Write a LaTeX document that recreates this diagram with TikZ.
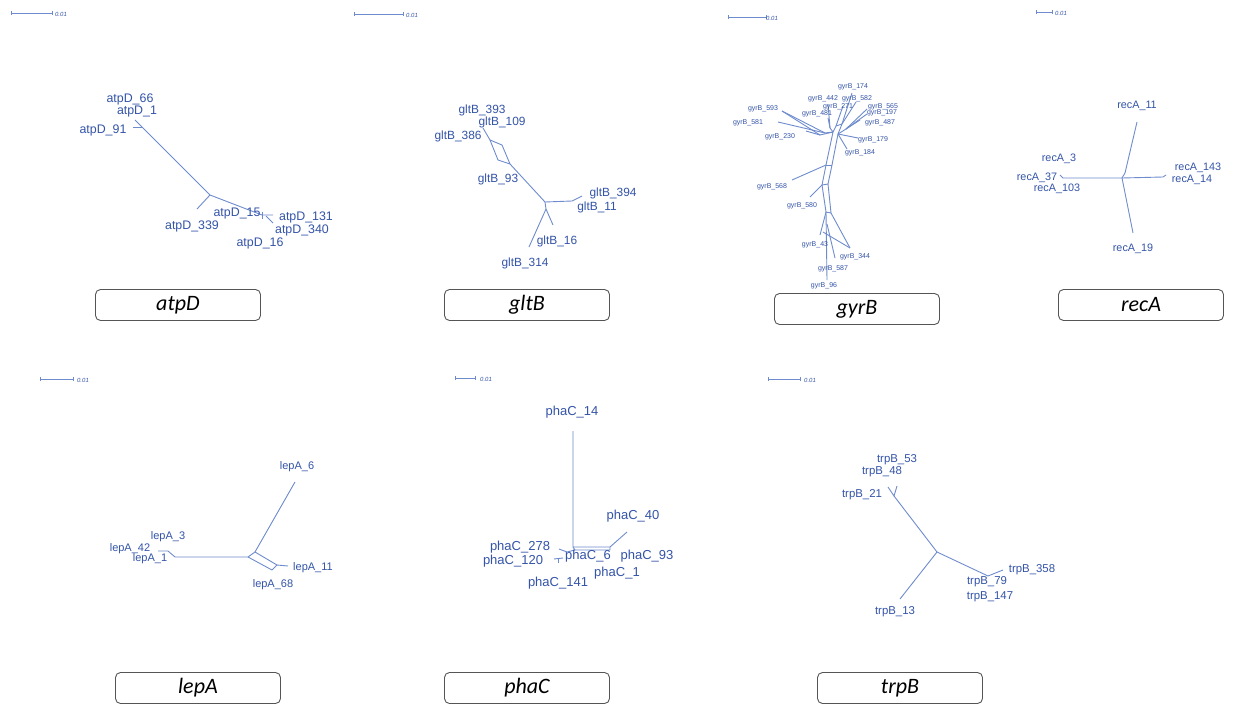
\documentclass[tikz,border=0pt]{standalone}
\usepackage{fontspec}
\setmainfont{Liberation Sans}
\newfontfamily\carlito{Carlito}
\usetikzlibrary{arrows.meta}
\definecolor{txtblue}{RGB}{52,84,168}
\definecolor{lineblue}{RGB}{110,140,205}
\definecolor{boxgray}{RGB}{85,85,85}
\tikzset{
  lbl/.style={text=txtblue,inner sep=0pt,font=\fontsize{#1}{#1}\selectfont},
  edge/.style={draw=lineblue,line width=0.9pt,line join=round},
  genebox/.style={draw=boxgray,rounded corners=5pt,minimum width=165pt,minimum height=31pt,line width=0.9pt,inner sep=0pt,font=\carlito\itshape\fontsize{22}{22}\selectfont},
  sbar/.style={draw=lineblue,line width=0.7pt,{Bar[width=4pt]}-{Bar[width=4pt]}},
  stxt/.style={text=txtblue,inner sep=0pt,font=\itshape\fontsize{6}{6}\selectfont}
}
\begin{document}
\begin{tikzpicture}[x=1pt,y=-1pt]
\useasboundingbox[fill=white] (0,0) rectangle (1234,704);

% ---------- scale bars ----------
\coordinate (s1a) at (11,13); \coordinate (s1b) at (53,13);
\draw[sbar] (s1a) -- (s1b); \node[stxt] (s1t) at (61,14) {0.01};
\coordinate (s2a) at (354,14); \coordinate (s2b) at (404,14);
\draw[sbar] (s2a) -- (s2b); \node[stxt] (s2t) at (412,15) {0.01};
\coordinate (s3a) at (728,17); \coordinate (s3b) at (767,17);
\draw[sbar] (s3a) -- (s3b); \node[stxt] (s3t) at (772,18) {0.01};
\coordinate (s4a) at (1036,12); \coordinate (s4b) at (1053,12);
\draw[sbar] (s4a) -- (s4b); \node[stxt] (s4t) at (1061,13) {0.01};
\coordinate (s5a) at (40,379); \coordinate (s5b) at (74,379);
\draw[sbar] (s5a) -- (s5b); \node[stxt] (s5t) at (83,380) {0.01};
\coordinate (s6a) at (455,378); \coordinate (s6b) at (476,378);
\draw[sbar] (s6a) -- (s6b); \node[stxt] (s6t) at (486,379) {0.01};
\coordinate (s7a) at (768,379); \coordinate (s7b) at (801,379);
\draw[sbar] (s7a) -- (s7b); \node[stxt] (s7t) at (810,380) {0.01};

% ---------- gene boxes ----------
\node[genebox] (bA) at (178,305) {atpD};
\node[genebox] (bG) at (527,305) {gltB};
\node[genebox] (bY) at (857,309) {gyrB};
\node[genebox] (bR) at (1141,305) {recA};
\node[genebox] (bL) at (198,688) {lepA};
\node[genebox] (bP) at (527,688) {phaC};
\node[genebox] (bT) at (900,688) {trpB};

% ---------- atpD ----------
\coordinate (d1) at (135,120); \coordinate (d2) at (142,127);
\coordinate (d3) at (133,127); \coordinate (dc) at (210,195);
\coordinate (d339) at (197,209); \coordinate (d4) at (262,215);
\coordinate (d5) at (273,215); \coordinate (d6) at (266,216);
\coordinate (d7) at (273,223); \coordinate (d8) at (262,212); \coordinate (d9) at (262,219);
\draw[edge] (d1) -- (d2) -- (dc) -- (d4) -- (d5);
\draw[edge] (d2) -- (d3);
\draw[edge] (dc) -- (d339);
\draw[edge] (d6) -- (d7);
\draw[edge] (d8) -- (d9);
\node[lbl=12.4] (a66) at (130,99) {atpD\_66};
\node[lbl=12.4] (a1) at (137,112) {atpD\_1};
\node[lbl=12.4] (a91) at (103,130) {atpD\_91};
\node[lbl=12.4] (a15) at (237,214) {atpD\_15};
\node[lbl=12.4] (a339) at (192,226) {atpD\_339};
\node[lbl=12.4] (a131) at (306,217) {atpD\_131};
\node[lbl=12.4] (a340) at (302,230) {atpD\_340};
\node[lbl=12.4] (a16) at (260,243) {atpD\_16};

% ---------- gltB ----------
\coordinate (g1) at (483,128); \coordinate (g2) at (490,140);
\coordinate (g3) at (502,145); \coordinate (g4) at (510,164);
\coordinate (g5) at (498,160); \coordinate (gc) at (545,202);
\coordinate (g6) at (572,201); \coordinate (g7) at (582,196);
\coordinate (g8) at (546,209); \coordinate (g9) at (553,225);
\coordinate (g10) at (529,247);
\draw[edge] (g1) -- (g2) -- (g3) -- (g4) -- (gc) -- (g6) -- (g7);
\draw[edge] (g2) -- (g5) -- (g4);
\draw[edge] (gc) -- (g8) -- (g9);
\draw[edge] (g8) -- (g10);
\node[lbl=11.9] (t393) at (482,110) {gltB\_393};
\node[lbl=11.9] (t109) at (502,122) {gltB\_109};
\node[lbl=11.9] (t386) at (458,136) {gltB\_386};
\node[lbl=11.9] (t93) at (498,179) {gltB\_93};
\node[lbl=11.9] (t394) at (613,193) {gltB\_394};
\node[lbl=11.9] (t11) at (597,207) {gltB\_11};
\node[lbl=11.9] (t16) at (557,241) {gltB\_16};
\node[lbl=11.9] (t314) at (525,263) {gltB\_314};

% ---------- gyrB ----------
\coordinate (yh) at (833,132); \coordinate (yh2) at (838,134);
\coordinate (ya1) at (826,165); \coordinate (ya2) at (822,185);
\coordinate (ya3) at (826,212); \coordinate (yb1) at (832,165);
\coordinate (yb2) at (828,184); \coordinate (yb3) at (831,213);
\coordinate (y43) at (820,235); \coordinate (y344) at (850,248);
\coordinate (y587) at (835,258); \coordinate (y96) at (827,280);
\coordinate (yq1) at (827,224); \coordinate (yq2) at (823,232);
\coordinate (y568) at (792,180); \coordinate (y580) at (810,197);
\coordinate (y593) at (782,111); \coordinate (y581) at (778,122);
\coordinate (y230) at (806,131); \coordinate (y481) at (828,118);
\coordinate (y442) at (828,104); \coordinate (y271) at (843,106);
\coordinate (y174) at (852,93); \coordinate (y582) at (856,102);
\coordinate (y565) at (867,109); \coordinate (y197) at (867,114);
\coordinate (y487) at (860,120); \coordinate (y179) at (858,138);
\coordinate (y184) at (847,149);
\coordinate (yc1) at (825,133); \coordinate (yc2) at (830,128);
\coordinate (yc3) at (842,124); \coordinate (yc4) at (846,129);
\coordinate (yc5) at (820,135); \coordinate (yc6) at (836,126);
\draw[edge] (yh) -- (ya1) -- (ya2) -- (ya3) -- (y96);
\draw[edge] (yh2) -- (yb1) -- (yb2) -- (yb3);
\draw[edge] (ya1) -- (yb1); \draw[edge] (ya2) -- (yb2);
\draw[edge] (ya3) -- (yb3);
\draw[edge] (ya3) -- (y43); \draw[edge] (yb3) -- (y344);
\draw[edge] (yq1) -- (y587); \draw[edge] (yq2) -- (y344);
\draw[edge] (ya1) -- (y568); \draw[edge] (ya2) -- (y580);
\draw[edge] (yh) -- (yc1) -- (y581); \draw[edge] (yc1) -- (y593);
\draw[edge] (yc5) -- (y593); \draw[edge] (yc5) -- (y230);
\draw[edge] (yh) -- (yc5);
\draw[edge] (yh) -- (yc2) -- (y481);
\draw[edge] (yc2) -- (y442);
\draw[edge] (yh) -- (yc6) -- (y271); \draw[edge] (yc6) -- (yc3);
\draw[edge] (yh2) -- (yc3) -- (y174); \draw[edge] (yc3) -- (y582);
\draw[edge] (yh2) -- (yc4) -- (y565); \draw[edge] (yc4) -- (y197);
\draw[edge] (yc4) -- (y487);
\draw[edge] (yh2) -- (y179); \draw[edge] (yh2) -- (y184);
\node[lbl=7] (y174t) at (853,87) {gyrB\_174};
\node[lbl=7] (y442t) at (823,99) {gyrB\_442};
\node[lbl=7] (y582t) at (857,99) {gyrB\_582};
\node[lbl=7] (y271t) at (838,107) {gyrB\_271};
\node[lbl=7] (y565t) at (883,107) {gyrB\_565};
\node[lbl=7] (y593t) at (763,109) {gyrB\_593};
\node[lbl=7] (y481t) at (817,114) {gyrB\_481};
\node[lbl=7] (y197t) at (882,113) {gyrB\_197};
\node[lbl=7] (y581t) at (748,123) {gyrB\_581};
\node[lbl=7] (y487t) at (880,123) {gyrB\_487};
\node[lbl=7] (y230t) at (780,137) {gyrB\_230};
\node[lbl=7] (y179t) at (873,140) {gyrB\_179};
\node[lbl=7] (y184t) at (860,153) {gyrB\_184};
\node[lbl=7] (y568t) at (772,187) {gyrB\_568};
\node[lbl=7] (y580t) at (802,206) {gyrB\_580};
\node[lbl=7] (y43t) at (815,245) {gyrB\_43};
\node[lbl=7] (y344t) at (855,257) {gyrB\_344};
\node[lbl=7] (y587t) at (833,269) {gyrB\_587};
\node[lbl=7] (y96t) at (824,286) {gyrB\_96};

% ---------- recA ----------
\coordinate (rc) at (1122,178); \coordinate (rc2) at (1125,173);
\coordinate (r11) at (1137,122); \coordinate (rL) at (1063,178);
\coordinate (rLh) at (1060,175); \coordinate (rR) at (1163,177);
\coordinate (rRh) at (1166,175); \coordinate (r19) at (1133,233);
\draw[edge] (rc) -- (rc2) -- (r11);
\draw[edge] (rc) -- (rL) -- (rLh);
\draw[edge] (rc) -- (rR) -- (rRh);
\draw[edge] (rc) -- (r19);
\node[lbl=10.8] (r11t) at (1137,106) {recA\_11};
\node[lbl=10.8] (r3t) at (1059,159) {recA\_3};
\node[lbl=10.8] (r37t) at (1037,178) {recA\_37};
\node[lbl=10.8] (r103t) at (1057,189) {recA\_103};
\node[lbl=10.8] (r143t) at (1198,168) {recA\_143};
\node[lbl=10.8] (r14t) at (1192,180) {recA\_14};
\node[lbl=10.8] (r19t) at (1133,249) {recA\_19};

% ---------- lepA ----------
\coordinate (l1) at (158,551); \coordinate (l2) at (168,551);
\coordinate (l3) at (175,557); \coordinate (lA) at (248,557);
\coordinate (lB) at (255,552); \coordinate (lC) at (277,565);
\coordinate (lD) at (272,570); \coordinate (l11) at (288,566);
\coordinate (l6) at (295,482);
\draw[edge] (l1) -- (l2) -- (l3) -- (lA) -- (lB) -- (lC) -- (l11);
\draw[edge] (lA) -- (lD) -- (lC);
\draw[edge] (lB) -- (l6);
\node[lbl=11] (l6t) at (297,467) {lepA\_6};
\node[lbl=11] (l3t) at (168,537) {lepA\_3};
\node[lbl=11] (l42t) at (130,549) {lepA\_42};
\node[lbl=11] (l1t) at (150,559) {lepA\_1};
\node[lbl=11] (l11t) at (313,568) {lepA\_11};
\node[lbl=11] (l68t) at (273,585) {lepA\_68};

% ---------- phaC ----------
\coordinate (p14) at (573,431); \coordinate (pA) at (573,547);
\coordinate (pB) at (610,547); \coordinate (pA2) at (575,550);
\coordinate (pB2) at (610,550); \coordinate (p40) at (627,532);
\coordinate (pt1) at (559,549); \coordinate (pt2) at (567,552);
\coordinate (pt3) at (554,559); \coordinate (pt4) at (563,558);
\coordinate (pt5) at (558,558); \coordinate (pt6) at (558,563);
\draw[edge] (p14) -- (pA) -- (pB) -- (p40);
\draw[edge] (pA) -- (pA2) -- (pB2) -- (pB);
\draw[edge] (pt1) -- (pt2) -- (pA2);
\draw[edge] (pt3) -- (pt4);
\draw[edge] (pt5) -- (pt6);
\node[lbl=13] (p14t) at (572,412) {phaC\_14};
\node[lbl=13] (p40t) at (633,516) {phaC\_40};
\node[lbl=13] (p278t) at (520,547) {phaC\_278};
\node[lbl=13] (p6t) at (588,556) {phaC\_6};
\node[lbl=13] (p93t) at (647,556) {phaC\_93};
\node[lbl=13] (p120t) at (513,561) {phaC\_120};
\node[lbl=13] (p1t) at (617,573) {phaC\_1};
\node[lbl=13] (p141t) at (558,583) {phaC\_141};

% ---------- trpB ----------
\coordinate (tf) at (894,496); \coordinate (t21) at (888,487);
\coordinate (t53) at (897,486); \coordinate (tc) at (937,552);
\coordinate (t13) at (900,599); \coordinate (tR) at (988,576);
\coordinate (t358) at (1003,570);
\draw[edge] (t21) -- (tf) -- (t53);
\draw[edge] (tf) -- (tc) -- (t13);
\draw[edge] (tc) -- (tR) -- (t358);
\node[lbl=11.4] (t53t) at (897,460) {trpB\_53};
\node[lbl=11.4] (t48t) at (882,472) {trpB\_48};
\node[lbl=11.4] (t21t) at (862,495) {trpB\_21};
\node[lbl=11.4] (t358t) at (1032,570) {trpB\_358};
\node[lbl=11.4] (t79t) at (987,582) {trpB\_79};
\node[lbl=11.4] (t147t) at (990,597) {trpB\_147};
\node[lbl=11.4] (t13t) at (895,612) {trpB\_13};
\end{tikzpicture}
\end{document}
